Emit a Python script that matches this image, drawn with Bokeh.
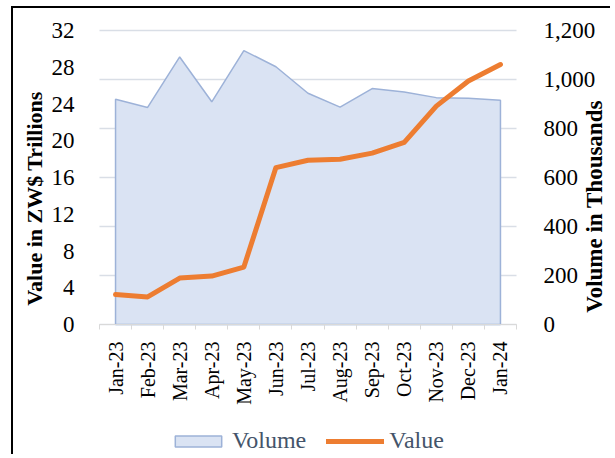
import math
from bokeh.plotting import figure
from bokeh.models import (Range1d, LinearAxis, FixedTicker, Legend, LegendItem,
                          NumeralTickFormatter, Label)
from bokeh.embed import file_html
from bokeh.resources import INLINE

months = ["Jan-23", "Feb-23", "Mar-23", "Apr-23", "May-23", "Jun-23", "Jul-23",
          "Aug-23", "Sep-23", "Oct-23", "Nov-23", "Dec-23", "Jan-24"]
volume = [919, 886, 1092, 909, 1118, 1052, 944, 887, 963, 949, 926, 923, 915]
value = [3.26, 3.0, 5.05, 5.27, 6.25, 17.08, 17.88, 17.99, 18.65, 19.82, 23.77, 26.51, 28.3]
left_ticks = [0, 4, 8, 12, 16, 20, 24, 28, 32]
right_ticks = [0, 200, 400, 600, 800, 1000, 1200]

FONT = "Liberation Serif"
n = len(months)
xc = [i + 0.5 for i in range(n)]
bounds = [i for i in range(n + 1)]
LMAX, RMAX = left_ticks[-1], right_ticks[-1]

# canvas geometry (pixels); the frame covers the whole canvas and the
# plotting area sits inside it
W, H = 599, 448
AL, AR, AT, AB = 86, 503, 22, 316   # plot-area edges in canvas pixels
xpp = n / (AR - AL)
ypp = LMAX / (AB - AT)
vpp = RMAX / (AB - AT)
x_range = Range1d(-AL * xpp, n + (W - AR) * xpp)
y_range = Range1d(-(H - AB) * ypp, LMAX + AT * ypp)

p = figure(width=W, height=H, output_backend="svg", toolbar_location=None,
           x_range=x_range, y_range=y_range, x_axis_location=None,
           y_axis_location=None, min_border=0)
p.styles = {"border-left": "2px solid black", "border-top": "2px solid black",
            "margin-left": "11px", "margin-top": "6px"}
p.outline_line_color = None
p.grid.grid_line_color = None
p.extra_y_ranges = {"vol": Range1d(-(H - AB) * vpp, RMAX + AT * vpp)}

# gridlines (at the right-axis ticks, spanning the category band)
p.segment(x0=[0] * len(right_ticks), x1=[n] * len(right_ticks),
          y0=right_ticks, y1=right_ticks, y_range_name="vol",
          line_color="#D9DEE6", line_width=1.5)

# volume area
px = [xc[0]] + xc + [xc[-1]]
py = [0] + volume + [0]
area = p.patch(px, py, y_range_name="vol", fill_color="#DAE3F3",
               line_color="#9DB2D8", line_width=1.5)
ln = p.line(xc, value, line_color="#ED7D31", line_width=5, line_cap="round",
            line_join="round")

# x axis
xa = LinearAxis(fixed_location=0, bounds=(0, n),
                ticker=FixedTicker(ticks=xc, minor_ticks=bounds))
xa.major_label_overrides = {x: m for x, m in zip(xc, months)}
xa.major_label_orientation = math.pi / 2
xa.major_tick_line_color = None
xa.major_tick_out = 0
xa.major_tick_in = 0
xa.minor_tick_in = 0
xa.minor_tick_out = 5
xa.minor_tick_line_color = "#D9D9D9"
xa.axis_line_color = "#D9D9D9"
xa.major_label_standoff = 12
xa.major_label_text_font = FONT
xa.major_label_text_font_size = "20px"
xa.major_label_text_color = "black"
p.add_layout(xa, "below")

# left axis
ya = LinearAxis(fixed_location=0, bounds=(0, LMAX),
                ticker=FixedTicker(ticks=left_ticks))
ya.axis_line_color = None
ya.major_tick_line_color = None
ya.minor_tick_line_color = None
ya.major_label_standoff = 19
ya.major_label_text_font = FONT
ya.major_label_text_font_size = "23px"
ya.major_label_text_color = "black"
p.add_layout(ya, "left")

# right axis
ra = LinearAxis(y_range_name="vol", fixed_location=n, bounds=(0, RMAX),
                ticker=FixedTicker(ticks=right_ticks),
                formatter=NumeralTickFormatter(format="0,0"))
ra.axis_line_color = None
ra.major_tick_line_color = None
ra.minor_tick_line_color = None
ra.major_label_standoff = 21
ra.major_label_text_font = FONT
ra.major_label_text_font_size = "23px"
ra.major_label_text_color = "black"
p.add_layout(ra, "right")

# axis titles
p.add_layout(Label(x=21, y=H - 190, x_units="screen", y_units="screen",
                   text="Value in ZW$ Trillions", angle=math.pi / 2,
                   text_align="center", text_baseline="middle",
                   text_font=FONT, text_font_size="22px", text_font_style="bold",
                   text_color="black"))
p.add_layout(Label(x=581, y=H - 198, x_units="screen", y_units="screen",
                   text="Volume in Thousands", angle=math.pi / 2,
                   text_align="center", text_baseline="middle",
                   text_font=FONT, text_font_size="23px", text_font_style="bold",
                   text_color="black"))

legend = Legend(items=[LegendItem(label="Volume", renderers=[area]),
                       LegendItem(label="Value", renderers=[ln])],
                orientation="horizontal", location=(156, 2),
                glyph_width=58, glyph_height=14, label_standoff=5, spacing=20,
                padding=0, margin=0, background_fill_alpha=0,
                border_line_color=None, label_text_font=FONT,
                label_text_font_size="24px", label_text_color="#44546A")
p.add_layout(legend, "center")

open("out.html", "w").write(file_html(p, INLINE))
